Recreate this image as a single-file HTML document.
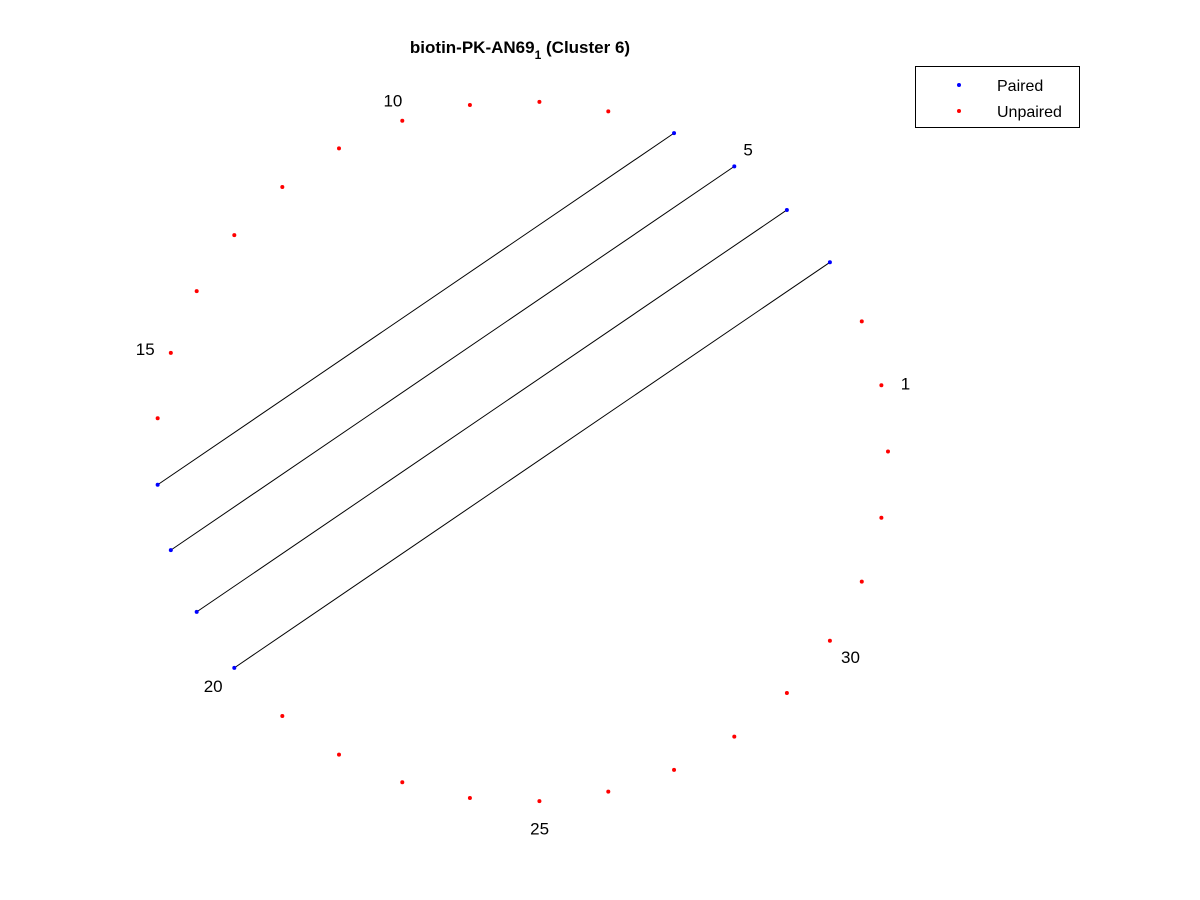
<!DOCTYPE html>
<html><head><meta charset="utf-8"><style>
body{margin:0;background:#fff;}
svg{display:block;font-family:"Liberation Sans",Arial,sans-serif;}
</style></head><body>
<svg id="chart" width="1200" height="900" viewBox="0 0 1200 900">
<rect width="1200" height="900" fill="#fff"/>
<text x="520" y="53" text-anchor="middle" font-size="17" font-weight="bold">biotin-PK-AN69<tspan font-size="12" dy="6">1</tspan><tspan dy="-6"> (Cluster 6)</tspan></text>
<g id="lines"></g>
<g id="dots"></g>
<g id="labels"></g>
<g>
<rect x="915.5" y="66.5" width="164" height="61" fill="#fff" stroke="#000" stroke-width="1"/>
<circle cx="959" cy="85" r="2" fill="#0000ff"/>
<text x="997" y="91" font-size="16">Paired</text>
<circle cx="959" cy="111" r="2" fill="#ff0000"/>
<text x="997" y="117" font-size="16">Unpaired</text>
</g>
</svg>
<script>
const nPositions = 33;
const pairsA = [3, 4, 5, 6];
const pairsB = [20, 19, 18, 17];
const labelPositions = [1, 5, 10, 15, 20, 25, 30];

const cx = 522, cy = 451.5, rx = 366, ry = 350;
function ang(k){ return k * 2 * Math.PI / nPositions; }
function px(k, s){ return cx + rx * (s||1) * Math.cos(ang(k)); }
function py(k, s){ return cy - ry * (s||1) * Math.sin(ang(k)); }
const NS = "http://www.w3.org/2000/svg";
const paired = new Set(pairsA.concat(pairsB));
const lines = document.getElementById('lines');
for (let i = 0; i < pairsA.length; i++) {
  const l = document.createElementNS(NS, 'line');
  l.setAttribute('x1', px(pairsA[i])); l.setAttribute('y1', py(pairsA[i]));
  l.setAttribute('x2', px(pairsB[i])); l.setAttribute('y2', py(pairsB[i]));
  l.setAttribute('stroke', '#000'); l.setAttribute('stroke-width', '1');
  
  
  lines.appendChild(l);
}
const dots = document.getElementById('dots');
for (let k = 1; k <= nPositions; k++) {
  const c = document.createElementNS(NS, 'circle');
  c.setAttribute('cx', px(k)); c.setAttribute('cy', py(k)); c.setAttribute('r', '2');
  c.setAttribute('fill', paired.has(k) ? '#0000ff' : '#ff0000');
  
  
  dots.appendChild(c);
}
const labels = document.getElementById('labels');
labelPositions.forEach(k => {
  const t = document.createElementNS(NS, 'text');
  t.setAttribute('x', px(k, 1.07) - 1); t.setAttribute('y', py(k, 1.07) + 9);
  t.setAttribute('text-anchor', 'middle'); t.setAttribute('font-size', '17');
  t.textContent = k;
  
  
  labels.appendChild(t);
});
</script>
</body></html>
